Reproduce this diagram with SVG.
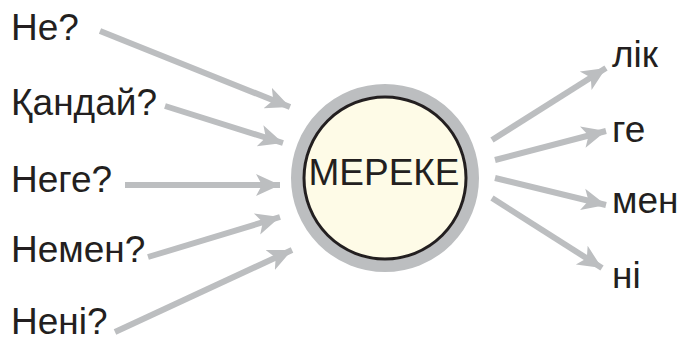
<svg xmlns="http://www.w3.org/2000/svg" width="683" height="341" viewBox="0 0 683 341">
<defs>
<marker id="ah" markerUnits="userSpaceOnUse" markerWidth="26" markerHeight="26" viewBox="0 0 26 26" refX="24" refY="13" orient="auto">
<path d="M0,2 L24,13 L0,24 L6,13 Z" fill="#bcbec0"/>
</marker>
<style>
.lbl{font-family:"Liberation Sans",Arial,sans-serif;font-size:37px;fill:#231f20}
.arr{stroke:#bcbec0;stroke-width:6;fill:none;marker-end:url(#ah)}
</style>
</defs>
<rect width="683" height="341" fill="#ffffff"/>
<g id="connectors">
<line class="arr" x1="100" y1="31" x2="290" y2="107"/>
<line class="arr" x1="165" y1="106" x2="283" y2="143"/>
<line class="arr" x1="125" y1="185" x2="280" y2="185"/>
<line class="arr" x1="148" y1="257" x2="280" y2="217"/>
<line class="arr" x1="115" y1="332" x2="292" y2="250"/>
<line class="arr" x1="492" y1="140" x2="606" y2="68"/>
<line class="arr" x1="495" y1="160" x2="606" y2="131"/>
<line class="arr" x1="495" y1="178" x2="606" y2="205"/>
<line class="arr" x1="492" y1="198" x2="602" y2="268"/>
</g>
<g id="center">
<circle cx="385" cy="178" r="88" fill="none" stroke="#bcbec0" stroke-width="12"/>
<circle cx="385" cy="178" r="81" fill="#fefbe7" stroke="#231f20" stroke-width="3"/>
<text class="lbl" x="384" y="185" text-anchor="middle">МЕРЕКЕ</text>
</g>
<g id="n-ne"><text class="lbl" x="11" y="40">Не?</text></g>
<g id="n-qanday"><text class="lbl" x="11" y="115">Қандай?</text></g>
<g id="n-nege"><text class="lbl" x="11" y="192">Неге?</text></g>
<g id="n-nemen"><text class="lbl" x="11" y="262">Немен?</text></g>
<g id="n-neni"><text class="lbl" x="11" y="334">Нені?</text></g>
<g id="n-lik"><text class="lbl" x="612" y="67">лік</text></g>
<g id="n-ge"><text class="lbl" x="612" y="142">ге</text></g>
<g id="n-men"><text class="lbl" x="612" y="213">мен</text></g>
<g id="n-ni"><text class="lbl" x="612" y="288">ні</text></g>
</svg>
